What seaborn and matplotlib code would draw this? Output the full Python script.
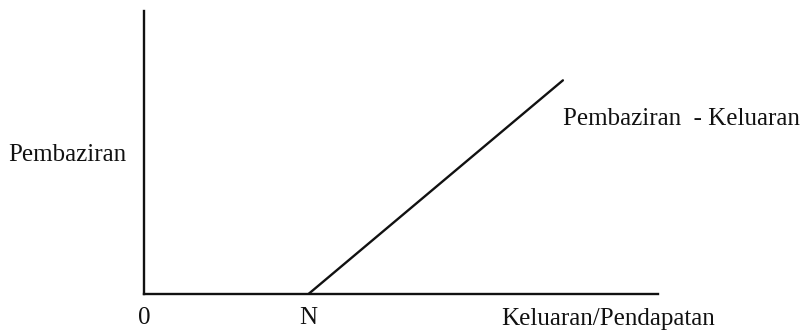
import matplotlib
matplotlib.use("Agg")
import matplotlib.pyplot as plt
import seaborn as sns
import pandas as pd

# Data (abstract units)
x_limits = [0, 10]
y_limits = [0, 10]
n_point = 3.2
waste_x = [n_point, 8.15]
waste_y = [0.0, 7.55]
tick_positions = [0, n_point]
tick_labels = ["0", "N"]
y_label = "Pembaziran"
x_label = "Keluaran/Pendapatan"
curve_label = "Pembaziran  - Keluaran"

sns.set_style("white")
plt.rcParams["font.family"] = ["Liberation Serif", "DejaVu Serif"]

fig = plt.figure(figsize=(8.06, 3.30), dpi=100)
ax = fig.add_axes([144 / 806, 36 / 330, 514 / 806, 283 / 330])

df = pd.DataFrame({"x": waste_x, "y": waste_y})
sns.lineplot(data=df, x="x", y="y", ax=ax, color="#111111", linewidth=1.7)

ax.set_xlim(*x_limits)
ax.set_ylim(*y_limits)
for side in ["top", "right"]:
    ax.spines[side].set_visible(False)
for side in ["left", "bottom"]:
    ax.spines[side].set_color("#111111")
    ax.spines[side].set_linewidth(1.7)

ax.set_xticks(tick_positions)
ax.set_xticklabels(tick_labels, fontsize=18)
ax.set_yticks([])
ax.tick_params(axis="x", length=0, pad=9, colors="#111111")
ax.set_xlabel("")
ax.set_ylabel("")

ax.text(-0.15, 0.49, y_label, transform=ax.transAxes, ha="center", va="center",
        fontsize=18, color="#111111")
ax.text(1.045, 0.618, curve_label, transform=ax.transAxes, ha="center", va="center",
        fontsize=18, color="#111111")
ax.text(0.902, -0.087, x_label, transform=ax.transAxes, ha="center", va="center",
        fontsize=18, color="#111111", clip_on=False)

fig.savefig("out.png", dpi=100)
